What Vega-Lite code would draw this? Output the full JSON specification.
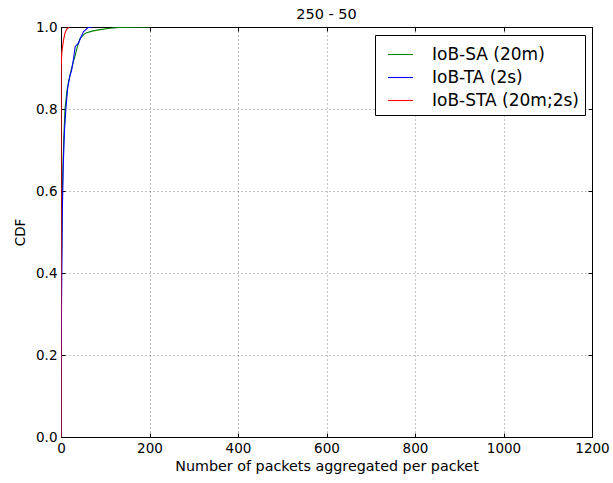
{
  "$schema": "https://vega.github.io/schema/vega-lite/v6.json",
  "width": 531,
  "height": 410,
  "autosize": {"type": "none"},
  "padding": {"left": 61, "top": 27, "right": 21, "bottom": 46},
  "background": "white",
  "title": {"text": "250 - 50", "font": "DejaVu Sans", "fontSize": 14.5, "fontWeight": "normal", "offset": -2, "color": "black"},
  "config": {
    "font": "DejaVu Sans",
    "view": {"stroke": "black", "strokeWidth": 1},
    "axis": {"labelFont": "DejaVu Sans", "titleFont": "DejaVu Sans", "labelFontSize": 13.5, "titleFontSize": 13.5, "titleFontWeight": "normal", "labelColor": "black", "titleColor": "black", "tickColor": "black", "domainColor": "black", "gridColor": "#000000", "gridOpacity": 0.6, "gridDash": [1, 3], "gridWidth": 0.8, "tickSize": -4, "labelPadding": 8, "labelFlush": false, "labelOverlap": false}
  },
  "data": {"values": [
    {"series": "IoB-SA (20m)", "x": 0, "y": 0},
    {"series": "IoB-SA (20m)", "x": 1, "y": 0.4},
    {"series": "IoB-SA (20m)", "x": 3, "y": 0.6},
    {"series": "IoB-SA (20m)", "x": 6, "y": 0.72},
    {"series": "IoB-SA (20m)", "x": 9, "y": 0.8},
    {"series": "IoB-SA (20m)", "x": 13, "y": 0.84},
    {"series": "IoB-SA (20m)", "x": 17, "y": 0.867},
    {"series": "IoB-SA (20m)", "x": 22, "y": 0.89},
    {"series": "IoB-SA (20m)", "x": 28, "y": 0.916},
    {"series": "IoB-SA (20m)", "x": 32, "y": 0.93},
    {"series": "IoB-SA (20m)", "x": 36, "y": 0.948},
    {"series": "IoB-SA (20m)", "x": 43, "y": 0.972},
    {"series": "IoB-SA (20m)", "x": 55, "y": 0.985},
    {"series": "IoB-SA (20m)", "x": 70, "y": 0.99},
    {"series": "IoB-SA (20m)", "x": 85, "y": 0.993},
    {"series": "IoB-SA (20m)", "x": 110, "y": 0.997},
    {"series": "IoB-SA (20m)", "x": 134, "y": 0.999},
    {"series": "IoB-SA (20m)", "x": 200, "y": 1.0},
    {"series": "IoB-TA (2s)", "x": 0, "y": 0},
    {"series": "IoB-TA (2s)", "x": 1, "y": 0.3},
    {"series": "IoB-TA (2s)", "x": 3, "y": 0.55},
    {"series": "IoB-TA (2s)", "x": 4, "y": 0.6},
    {"series": "IoB-TA (2s)", "x": 5, "y": 0.66},
    {"series": "IoB-TA (2s)", "x": 8, "y": 0.75},
    {"series": "IoB-TA (2s)", "x": 11, "y": 0.8},
    {"series": "IoB-TA (2s)", "x": 15, "y": 0.85},
    {"series": "IoB-TA (2s)", "x": 20, "y": 0.88},
    {"series": "IoB-TA (2s)", "x": 24, "y": 0.895},
    {"series": "IoB-TA (2s)", "x": 28, "y": 0.92},
    {"series": "IoB-TA (2s)", "x": 32, "y": 0.952},
    {"series": "IoB-TA (2s)", "x": 39, "y": 0.96},
    {"series": "IoB-TA (2s)", "x": 45, "y": 0.975},
    {"series": "IoB-TA (2s)", "x": 51, "y": 0.989},
    {"series": "IoB-TA (2s)", "x": 62, "y": 0.999},
    {"series": "IoB-TA (2s)", "x": 71, "y": 1.0},
    {"series": "IoB-STA (20m;2s)", "x": 0, "y": 0},
    {"series": "IoB-STA (20m;2s)", "x": 0.3, "y": 0.9},
    {"series": "IoB-STA (20m;2s)", "x": 1, "y": 0.92},
    {"series": "IoB-STA (20m;2s)", "x": 2, "y": 0.94},
    {"series": "IoB-STA (20m;2s)", "x": 4, "y": 0.955},
    {"series": "IoB-STA (20m;2s)", "x": 6, "y": 0.97},
    {"series": "IoB-STA (20m;2s)", "x": 9, "y": 0.985},
    {"series": "IoB-STA (20m;2s)", "x": 13, "y": 0.995},
    {"series": "IoB-STA (20m;2s)", "x": 19, "y": 1.0}
  ]},
  "layer": [
    {
      "mark": {"type": "line", "strokeWidth": 1.1, "clip": true},
      "encoding": {
        "x": {"field": "x", "type": "quantitative", "scale": {"domain": [0, 1200], "nice": false}, "axis": {"title": "Number of packets aggregated per packet", "titleFontSize": 14.3, "values": [0, 200, 400, 600, 800, 1000, 1200], "format": "d", "grid": true, "titlePadding": 5}},
        "y": {"field": "y", "type": "quantitative", "scale": {"domain": [0, 1], "nice": false}, "axis": {"title": "CDF", "values": [0, 0.2, 0.4, 0.6, 0.8, 1.0], "format": ".1f", "grid": true, "titlePadding": 8}},
        "order": {"field": "y", "type": "quantitative"},
        "color": {"field": "series", "type": "nominal", "scale": {"domain": ["IoB-SA (20m)", "IoB-TA (2s)", "IoB-STA (20m;2s)"], "range": ["#008000", "#0000ff", "#ff0000"]},
          "legend": {"title": null, "orient": "none", "legendX": 314, "legendY": 8, "symbolType": "stroke", "symbolSize": 625, "symbolStrokeWidth": 1.1, "labelFontSize": 17, "labelFont": "DejaVu Sans", "labelColor": "black", "strokeColor": "black", "fillColor": "white", "padding": 6, "symbolOffset": 6, "rowPadding": 1, "labelOffset": 18, "cornerRadius": 0}}
      }
    },
    {
      "mark": {"type": "rule", "opacity": 0},
      "encoding": {
        "x": {"field": "x", "type": "quantitative", "scale": {"domain": [0, 1200], "nice": false}, "axis": {"orient": "top", "title": null, "labels": false, "values": [0, 200, 400, 600, 800, 1000, 1200], "domain": false, "grid": false}},
        "y": {"field": "y", "type": "quantitative", "scale": {"domain": [0, 1], "nice": false}, "axis": {"orient": "right", "title": null, "labels": false, "values": [0, 0.2, 0.4, 0.6, 0.8, 1.0], "domain": false, "grid": false}}
      }
    }
  ],
  "resolve": {"axis": {"x": "independent", "y": "independent"}}
}
